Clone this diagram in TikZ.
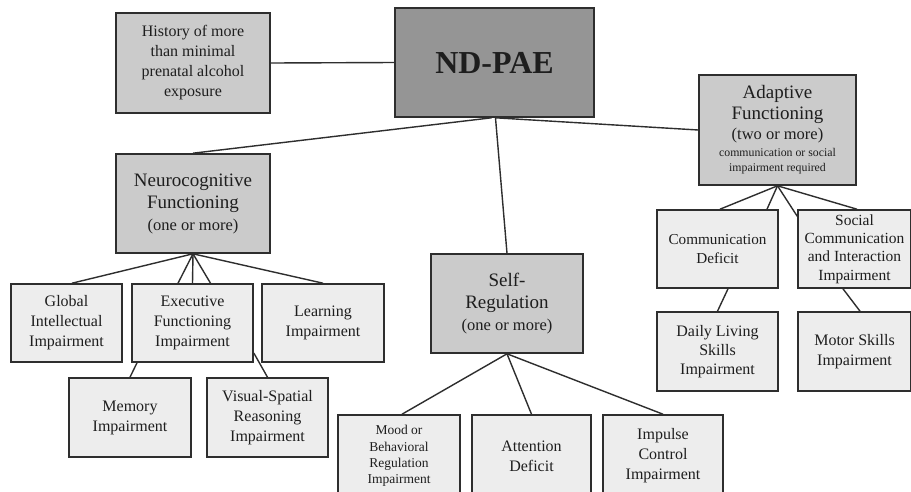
\documentclass[tikz,border=0pt]{standalone}
\usepackage{fontspec}
\setmainfont{Liberation Serif}
\definecolor{topfill}{HTML}{959595}
\definecolor{midfill}{HTML}{CBCBCB}
\definecolor{leaffill}{HTML}{EDEDED}
\definecolor{edge}{HTML}{2E2E2E}
\definecolor{ink}{HTML}{1E1E1E}
\tikzset{
  boxbase/.style={draw=edge, line width=1.6pt, inner sep=0pt, align=center, text=ink},
  topbox/.style={boxbase, fill=topfill},
  midbox/.style={boxbase, fill=midfill},
  leafbox/.style={boxbase, fill=leaffill, font=\fontsize{16}{20}\selectfont},
  conn/.style={draw=edge, line width=1.4pt},
}
\newcommand{\bsz}[2]{\fontsize{#1}{#2}\selectfont}
\begin{document}
\begin{tikzpicture}[x=1pt,y=-1pt]
\useasboundingbox (0,0) rectangle (911,491);
\clip (0,0) rectangle (911,491);
\fill[white] (0,0) rectangle (911,491);

% nodes
\node[midbox, minimum width=154pt, minimum height=100pt, font=\bsz{16}{20}] (hist) at (193,63)
  {History of more\\than minimal\\prenatal alcohol\\exposure};
\node[topbox, minimum width=199pt, minimum height=109pt, font=\bsz{32}{36}\bfseries] (nd) at (494.5,62.5) {ND-PAE};
\node[midbox, minimum width=154pt, minimum height=99pt, font=\bsz{19}{22}] (neuro) at (193,203.5)
  {Neurocognitive\\Functioning\\{\bsz{16.5}{21}(one or more)}};
\node[midbox, minimum width=157pt, minimum height=110pt, font=\bsz{19}{21}] (adapt) at (777.5,130)
  {Adaptive\\Functioning\\[-1pt]{\bsz{16.5}{20}(two or more)}\\[-4pt]{\bsz{11.8}{15}communication or social}\\[-6pt]{\bsz{11.8}{15}impairment required}};
\node[midbox, minimum width=152pt, minimum height=99pt, font=\bsz{19}{22}] (selfreg) at (507,303.5)
  {Self-\\Regulation\\{\bsz{16.5}{21}(one or more)}};

\node[leafbox, minimum width=111pt, minimum height=78pt] (global) at (66.5,323) {Global\\Intellectual\\Impairment};
\node[leafbox, minimum width=121pt, minimum height=78pt] (exec) at (192.5,323) {Executive\\Functioning\\Impairment};
\node[leafbox, minimum width=122pt, minimum height=78pt] (learn) at (323,323) {Learning\\Impairment};
\node[leafbox, minimum width=122pt, minimum height=79pt] (memory) at (130,417.5) {Memory\\Impairment};
\node[leafbox, minimum width=121pt, minimum height=79pt] (visual) at (267.5,417.5) {Visual-Spatial\\Reasoning\\Impairment};

\node[leafbox, minimum width=122pt, minimum height=82pt, font=\bsz{13.5}{16.3}] (mood) at (399,456) {Mood or\\Behavioral\\Regulation\\Impairment};
\node[leafbox, minimum width=119pt, minimum height=82pt] (attn) at (531.5,456) {Attention\\Deficit};
\node[leafbox, minimum width=120pt, minimum height=82pt] (impulse) at (663,456) {Impulse\\Control\\Impairment};

\node[leafbox, minimum width=121pt, minimum height=78pt, font=\bsz{15.2}{19}] (comm) at (717.5,249) {Communication\\Deficit};
\node[leafbox, minimum width=113pt, minimum height=78pt, font=\bsz{15.5}{18.3}] (social) at (854.5,249) {Social\\Communication\\and Interaction\\Impairment};
\node[leafbox, minimum width=121pt, minimum height=79pt, font=\bsz{16}{19.3}] (daily) at (717.5,351.5) {Daily Living\\Skills\\Impairment};
\node[leafbox, minimum width=113pt, minimum height=79pt] (motor) at (854.5,351.5) {Motor Skills\\Impairment};

% connectors
\draw[conn] (hist.east) -- (nd.west);
\draw[conn] ([xshift=-3pt]nd.south) -- (neuro.north);
\draw[conn] ([xshift=1pt]nd.south) -- (selfreg.north);
\draw[conn] ([xshift=1pt]nd.south) -- (adapt.west);

\draw[conn] (neuro.south) -- ([xshift=5.5pt]global.north);
\draw[conn] (neuro.south) -- ([xshift=-14.5pt]exec.north);
\draw[conn] (neuro.south) -- (exec.north);
\draw[conn] (neuro.south) -- ([xshift=18pt]exec.north);
\draw[conn] (neuro.south) -- (learn.north);
\draw[conn] ([xshift=-55.5pt]exec.south) -- (memory.north);
\draw[conn] ([yshift=-30pt]exec.east) -- (visual.north);

\draw[conn] (selfreg.south) -- ([xshift=3pt]mood.north);
\draw[conn] (selfreg.south) -- (attn.north);
\draw[conn] (selfreg.south) -- (impulse.north);

\draw[conn] (adapt.south) -- ([xshift=2.5pt]comm.north);
\draw[conn] (adapt.south) -- ([xshift=49.5pt]comm.north);
\draw[conn] (adapt.south) -- ([yshift=-7pt]social.north west);
\draw[conn] (adapt.south) -- ([xshift=2.5pt]social.north);
\draw[conn] ([xshift=10.5pt]comm.south) -- (daily.north);
\draw[conn] ([xshift=-11.5pt]social.south) -- ([xshift=5.5pt]motor.north);
\end{tikzpicture}
\end{document}
